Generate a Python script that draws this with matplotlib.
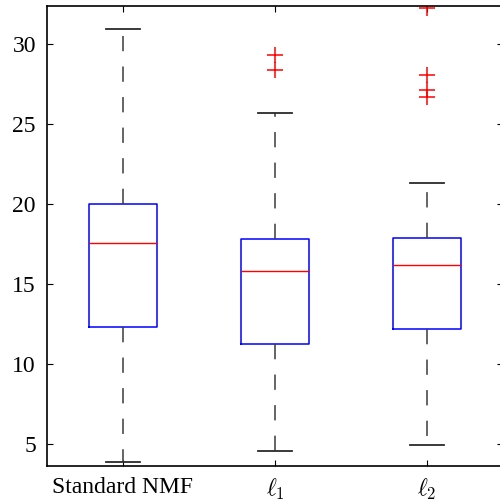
import matplotlib
matplotlib.use('Agg')
import matplotlib.pyplot as plt

# box statistics (MATLAB-style boxplot)
labels = ['Standard NMF', r'$\ell_1$', r'$\ell_2$']
medians = [17.58, 15.81, 16.17]
q1s = [12.31, 11.25, 12.21]
q3s = [20.0, 17.81, 17.86]
whis_lo = [3.89, 4.58, 4.92]
whis_hi = [30.94, 25.67, 21.33]
fliers = [[], [29.31, 28.39], [32.23, 28.06, 27.13, 26.71]]

plt.rcParams['font.family'] = ['Liberation Serif', 'DejaVu Serif']
plt.rcParams['mathtext.fontset'] = 'cm'

stats = []
for i in range(len(labels)):
    stats.append(dict(med=medians[i], q1=q1s[i], q3=q3s[i],
                      whislo=whis_lo[i], whishi=whis_hi[i],
                      fliers=fliers[i], label=labels[i]))

fig = plt.figure(figsize=(5.0, 5.01), dpi=100)
ax = fig.add_axes([0.094, 0.0699, 0.912, 0.918])

ax.bxp(stats, positions=[1, 2, 3], widths=0.45,
       boxprops=dict(color='blue', lw=1.1),
       medianprops=dict(color='red', lw=1.0),
       whiskerprops=dict(color='#3a3a3a', lw=1.1, linestyle=(0, (10, 10))),
       capprops=dict(color='#2a2a2a', lw=1.3),
       flierprops=dict(marker='+', markeredgecolor='red', markersize=11,
                       markeredgewidth=1.1, linestyle='none'))

ax.set_xlim(0.5, 3.5)
ax.set_ylim(3.625, 32.375)
ax.set_yticks([5, 10, 15, 20, 25, 30])
ax.set_xticks([1, 2, 3])
ax.set_xticklabels(labels)
ax.tick_params(direction='in', top=True, right=True, length=4, width=0.8,
               labelsize=17, pad=8)
for s in ax.spines.values():
    s.set_linewidth(1.2)

fig.savefig('out.png', dpi=100)
